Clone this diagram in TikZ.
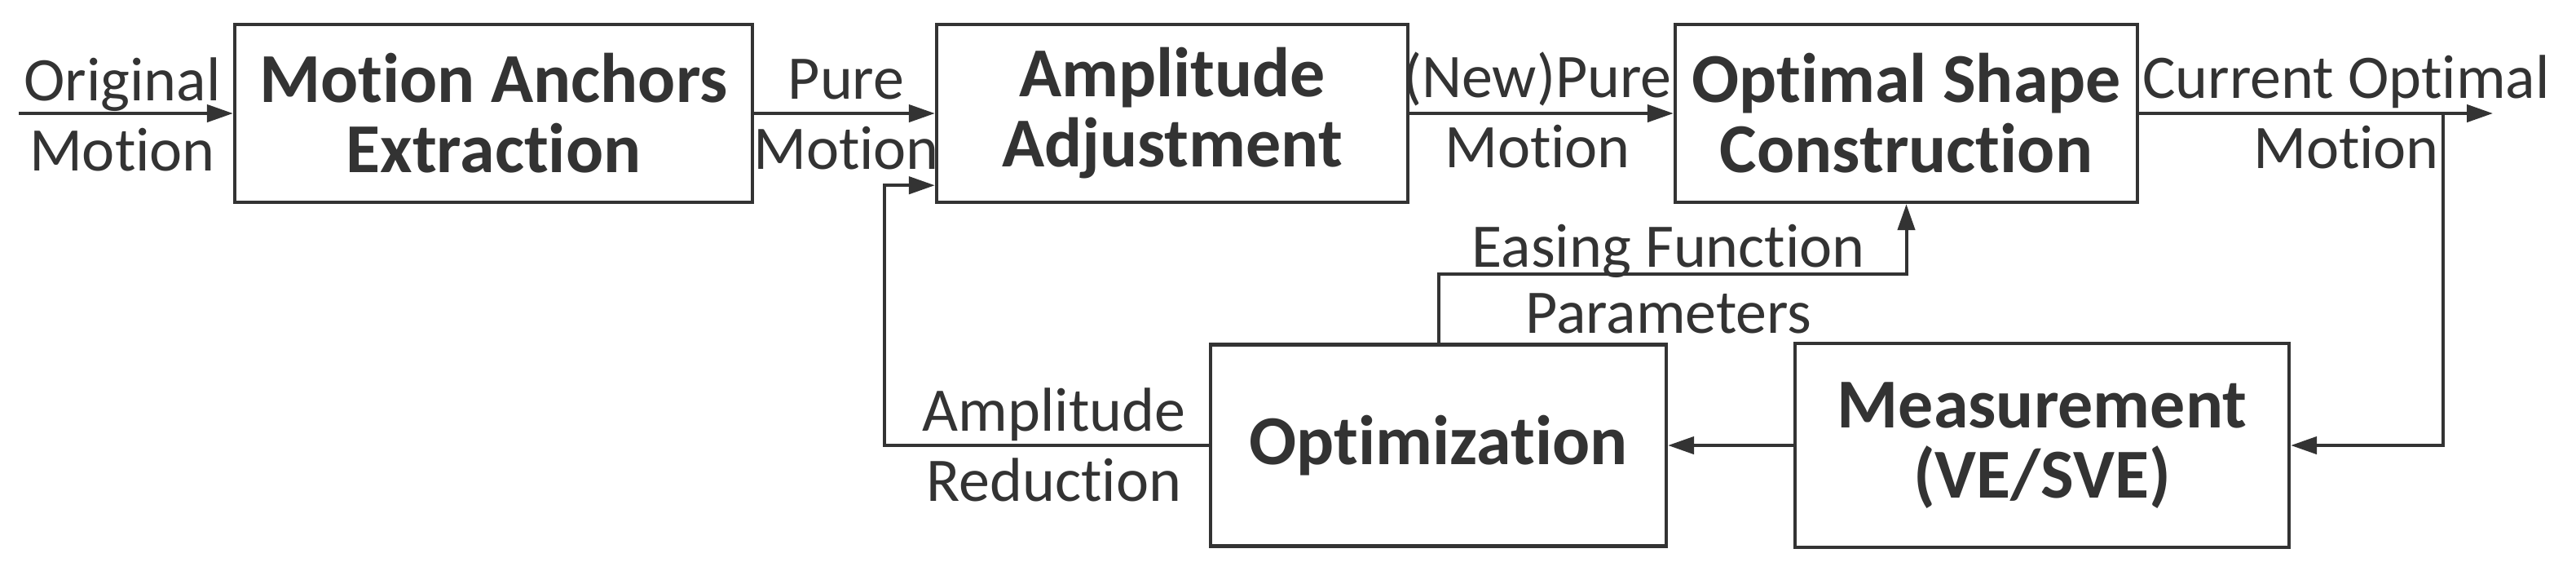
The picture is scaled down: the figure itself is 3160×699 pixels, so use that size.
\documentclass[tikz,border=0pt]{standalone}
\usepackage{fontspec}
\setmainfont{Carlito}[Ligatures=NoCommon]
\usetikzlibrary{arrows.meta}
\definecolor{ink}{HTML}{333333}
\begin{document}
\begin{tikzpicture}[x=0.25pt,y=-0.25pt,
  box/.style={draw=ink, line width=1.1pt, fill=white, inner sep=0pt, align=center,
    font=\fontsize{21.5}{21.5}\selectfont\bfseries, text=ink},
  lbl/.style={inner sep=0pt, align=center, font=\fontsize{19}{21.5}\selectfont, text=ink},
  arr/.style={draw=ink, line width=1pt, -{Triangle[length=8pt,width=5.3pt]}}]
\useasboundingbox[fill=white] (0,0) rectangle (3160,699);
% boxes
\node[box, minimum width=158.75pt, minimum height=54.5pt] (mae) at (605.5,139) {Motion Anchors\\Extraction};
\node[box, minimum width=144.5pt, minimum height=54.5pt] (aa) at (1438,139) {Amplitude\\Adjustment};
\node[box, minimum width=141.75pt, minimum height=54.5pt] (osc) at (2338.5,139) {Optimal Shape\\Construction};
\node[box, minimum width=139.75pt, minimum height=61.75pt] (opt) at (1764.5,546) {Optimization};
\node[box, minimum width=151.5pt, minimum height=62.5pt] (mea) at (2505,546) {Measurement\\(VE/SVE)};
% helper coordinates
\coordinate (start) at (23,139);
\coordinate (end) at (3058,139);
\coordinate (branch) at (2997,139);
\coordinate (fbx) at (1085,300);
\coordinate (ez) at (0,336);
\path (aa.south west) ++(0,-23) coordinate (fbin);
% connectors
\draw[arr] (start) -- (mae.west);
\draw[arr] (mae.east) -- (aa.west);
\draw[arr] (aa.east) -- (osc.west);
\draw[arr] (osc.east) -- (end);
\draw[arr] (branch) |- (mea.east);
\draw[arr] (mea.west) -- (opt.east);
\draw[arr] (opt.west) -- (opt.west -| fbx) |- (fbin);
\draw[arr] (opt.north) -- (opt.north |- ez) -| (osc.south);
% labels
\node[lbl] (l1) at (150,140.5) {Original\\Motion};
\node[lbl] (l2) at (1038,140.5) {Pure\\Motion};
\node[lbl] (l3) at (1886,135) {(New)Pure\\Motion};
\node[lbl] (l4) at (2878,137) {Current Optimal\\Motion};
\node[lbl] (l5) at (2047,308) {Easing Function};
\node[lbl] (l6) at (2047,384) {Parameters};
\node[lbl] (l7) at (1293,545) {Amplitude\\Reduction};
\end{tikzpicture}
\end{document}
